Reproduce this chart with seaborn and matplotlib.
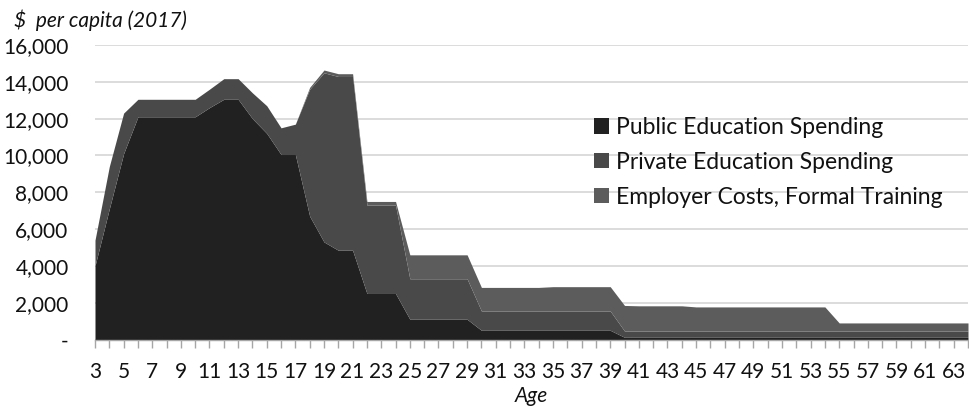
import matplotlib
matplotlib.use("Agg")
import matplotlib.pyplot as plt
from matplotlib.patches import Patch
import numpy as np
import pandas as pd
import seaborn as sns

# Ages covered by the chart
ages = list(range(3, 65))

# Per-capita spending by age, 2017 dollars
public_education = (
    [4000, 7100, 10100, 12100, 12100, 12100, 12100, 12100, 12600, 13050,
     13050, 12000, 11200, 10050, 10050, 6700, 5300, 4850, 4850, 2500,
     2500, 2500]
    + [1100] * 5
    + [500] * 10
    + [120] * 25
)
private_education = (
    [1400, 2300, 2200, 950, 950, 950, 950, 950, 1000, 1120,
     1120, 1400, 1500, 1450, 1650, 6900, 9190, 9440, 9440, 4800,
     4800, 4800]
    + [2200] * 5
    + [1050] * 10
    + [340] * 25
)
employer_training = (
    [0] * 15
    + [100, 150, 150, 150, 200, 200, 200]
    + [1300] * 5
    + [1280] * 5 + [1320] * 5
    + [1390] + [1370] * 4 + [1310] * 10
    + [440] * 10
)

series_names = [
    "Public Education Spending",
    "Private Education Spending",
    "Employer Costs, Formal Training",
]
series_colors = ["#212121", "#494949", "#5c5c5c"]

y_ticks = [0, 2000, 4000, 6000, 8000, 10000, 12000, 14000, 16000]
y_tick_labels = ["-", "2,000", "4,000", "6,000", "8,000", "10,000",
                 "12,000", "14,000", "16,000"]

df = pd.DataFrame({
    "age": ages,
    series_names[0]: public_education,
    series_names[1]: private_education,
    series_names[2]: employer_training,
})

sns.set_theme(style="white")
plt.rcParams["font.family"] = ["Lato", "DejaVu Sans"]

fig = plt.figure(figsize=(9.70, 4.09), dpi=100)
ax = fig.add_axes([95 / 970, 1 - 339.5 / 409, (968 - 95) / 970, (339.5 - 45) / 409])

ax.stackplot(df["age"], df[series_names[0]], df[series_names[1]], df[series_names[2]],
             colors=series_colors, linewidth=0, zorder=2)

ax.set_xlim(3, 64)
ax.set_ylim(0, 16000)

ax.set_yticks(y_ticks)
ax.set_yticklabels(y_tick_labels)
ax.yaxis.grid(True, color="#d9d9d9", linewidth=1.3, zorder=0)
ax.xaxis.grid(False)
ax.set_axisbelow(True)
ax.tick_params(axis="y", length=0, pad=19, labelsize=15, labelcolor="#111111")

ax.set_xticks(ages)
ax.set_xticklabels([str(a) if a % 2 == 1 else "" for a in ages])
ax.tick_params(axis="x", bottom=True, length=6, width=1.0, color="#a6a6a6",
               pad=10, labelsize=15, labelcolor="#111111")

for side in ["left", "right", "top"]:
    ax.spines[side].set_visible(False)
ax.spines["bottom"].set_color("#a6a6a6")
ax.spines["bottom"].set_linewidth(1.0)

ax.set_xlabel("Age", fontsize=15, style="italic", color="#111111", labelpad=3)
fig.text(14 / 970, 1 - 20 / 409, "$  per capita (2017)", fontsize=15, style="italic",
         color="#111111", ha="left", va="center")

handles = [Patch(facecolor=c, edgecolor="none") for c in series_colors]
ax.legend(handles, series_names, loc="upper left",
          bbox_to_anchor=(594 / 970, 1 - 117 / 409), bbox_transform=fig.transFigure,
          frameon=False, fontsize=16.5, handlelength=0.65, handleheight=0.65,
          handletextpad=0.3, labelspacing=0.6, borderpad=0, borderaxespad=0,
          labelcolor="#111111")

fig.savefig("out.png", dpi=100)
